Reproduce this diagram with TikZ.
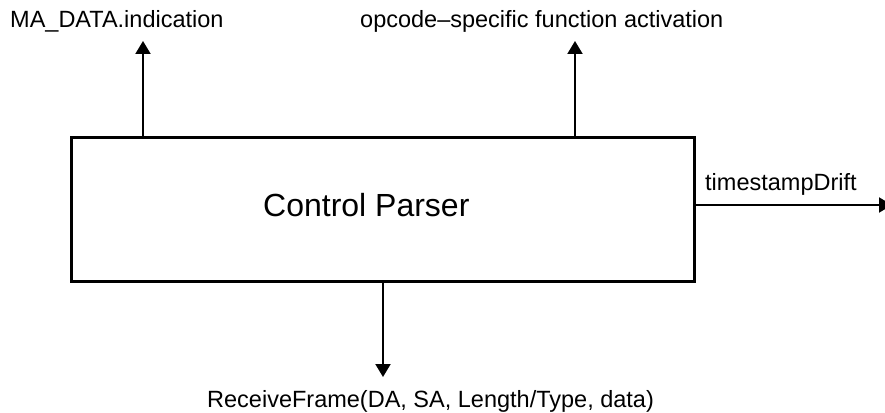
\documentclass[tikz,border=0pt]{standalone}
\usepackage{fontspec}
\setmainfont{Liberation Sans}
\usetikzlibrary{arrows.meta}
\begin{document}
\begin{tikzpicture}[x=1pt,y=-1pt,
  box/.style={draw, line width=3pt, inner sep=0pt, outer sep=0pt},
  lbl/.style={inner sep=0pt, anchor=base west, font=\fontsize{23.5}{28}\selectfont},
  big/.style={inner sep=0pt, anchor=base west, font=\fontsize{32}{38}\selectfont},
  arr/.style={line width=2pt, -{Triangle[length=13pt,width=15pt]}}]
\useasboundingbox (0,0) rectangle (885,412);
\clip (0,0) rectangle (885,412);
\node[box, minimum width=623pt, minimum height=144pt, anchor=north west] (cp) at (71,137) {};
\node[big] (cpt) at (263,216) {Control Parser};
\node[lbl] (ma) at (10,28) {MA\_DATA.indication};
\node[lbl] (op) at (360,28) {opcode–specific function activation};
\node[lbl] (ts) at (705,190) {timestampDrift};
\node[lbl] (rf) at (207,407) {ReceiveFrame(DA, SA, Length/Type, data)};
\coordinate (t1) at (143,41);
\coordinate (t2) at (575,41);
\coordinate (t3) at (383,377);
\coordinate (t4) at (892,205);
\draw[arr] (cp.north -| t1) -- (t1);
\draw[arr] (cp.north -| t2) -- (t2);
\draw[arr] (cp.south -| t3) -- (t3);
\draw[arr] (cp.east |- t4) -- (t4);
\end{tikzpicture}
\end{document}
